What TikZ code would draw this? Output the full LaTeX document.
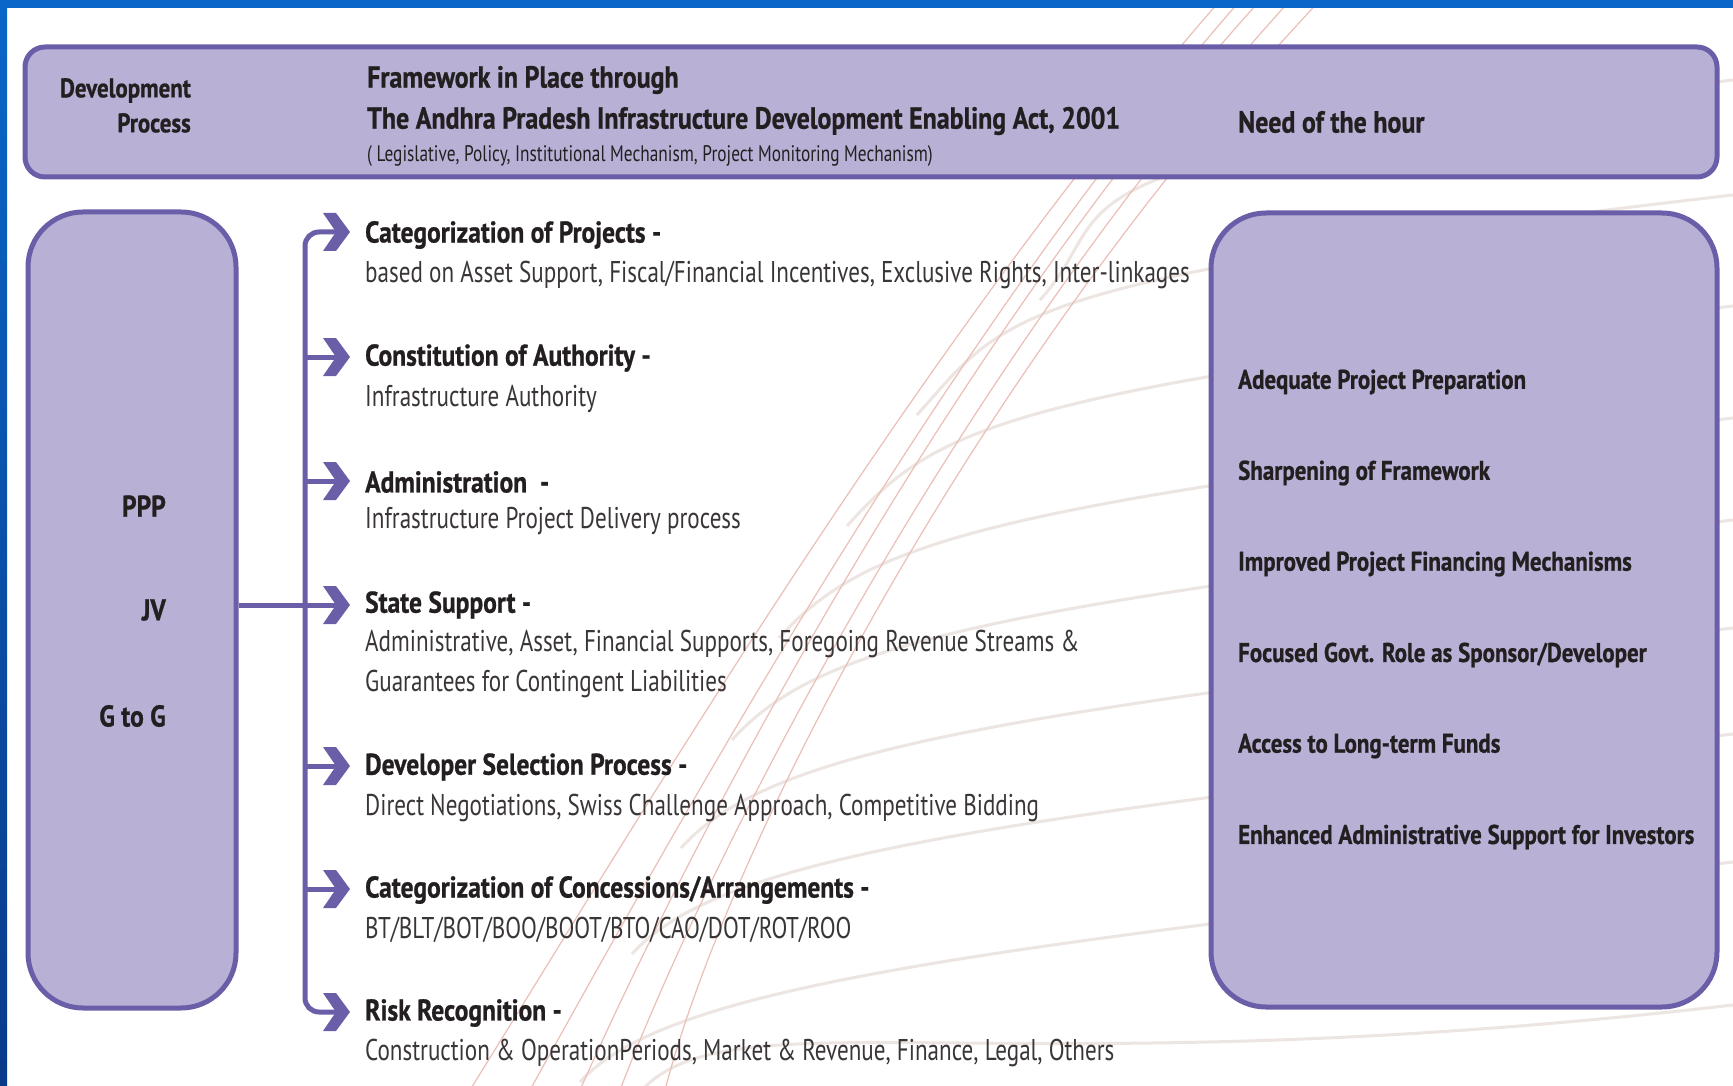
\documentclass[tikz,border=0pt]{standalone}
\usepackage{fontspec}
\setmainfont{PT Sans}[FakeStretch=0.77]
\newfontfamily\bcond{PT Sans}[FakeStretch=0.85, BoldFeatures={FakeBold=0.8}]
\usetikzlibrary{calc}
\definecolor{bluebar}{HTML}{0A66C8}
\definecolor{bluedark}{HTML}{0A3A8A}
\definecolor{boxfill}{HTML}{B9B0D6}
\definecolor{boxline}{HTML}{6A5EA8}
\definecolor{ink}{HTML}{231F20}
\definecolor{subink}{HTML}{3A3638}
\definecolor{swoosh}{HTML}{EBBFB6}
\definecolor{fanc}{HTML}{EDE5E2}
\tikzset{
  pbox/.style={draw=boxline, fill=boxfill, line width=5pt},
  conn/.style={draw=boxline, line width=5pt},
  chevron/.pic={\fill[boxline] (-27,-19) -- (-14,-19) -- (0,0) -- (-14,19) -- (-27,19) -- (-14,0) -- cycle;},
  head/.style={anchor=west, inner sep=0pt, font=\bcond\bfseries\fontsize{30}{34}\selectfont, text=ink},
  sub/.style={anchor=west, inner sep=0pt, font=\fontsize{30}{34}\selectfont, text=subink},
  need/.style={anchor=west, inner sep=0pt, font=\bcond\bfseries\fontsize{27}{31}\selectfont, text=ink},
  lab/.style={anchor=east, inner sep=0pt, font=\bcond\bfseries\fontsize{30}{34}\selectfont, text=ink},
  hdrbig/.style={anchor=west, inner sep=0pt, font=\bcond\bfseries\fontsize{30.5}{35}\selectfont, text=ink},
  hdrsmall/.style={anchor=west, inner sep=0pt, font=\fontsize{22.5}{26}\selectfont, text=ink},
  hdrdev/.style={anchor=north east, inner sep=0pt, align=right, font=\bcond\bfseries\fontsize{27}{35}\selectfont, text=ink},
  swl/.style={draw=swoosh, line width=1.2pt},
  fanl/.style={draw=fanc, line width=3pt},
}
\begin{document}
\begin{tikzpicture}[x=1pt,y=-1pt]
\useasboundingbox (0,0) rectangle (1733,1086);
\fill[white] (0,0) rectangle (1733,1086);
% background swooshes
\foreach \Y/\sx/\sy in {150/1040/300, 265/917/415, 376/847/526, 488/779/638, 590/732/740, 698/681/848, 804/632/954, 932/580/1082, 1075/640/1092}{
  \draw[fanl] (\sx,\sy) .. controls ($(\sx,\sy)+(90,-100)$) and (1000,\Y+15) .. (1733,\Y-70);
}
\draw[swl] (470,1090) .. controls (650,800) and (930,330) .. (1225,-5);
\draw[swl] (530,1090) .. controls (680,820) and (950,330) .. (1245,-5);
\draw[swl] (580,1090) .. controls (700,820) and (960,330) .. (1265,-5);
\draw[swl] (620,1090) .. controls (720,830) and (975,345) .. (1295,-5);
\draw[swl] (665,1090) .. controls (730,840) and (985,355) .. (1325,-5);
% blue frame
\fill[bluebar] (0,0) rectangle (1733,8);
\shade[top color=bluebar, bottom color=bluedark] (0,0) rectangle (7,1086);
% header
\node[pbox, rounded corners=20pt, minimum width=1692pt, minimum height=130pt] (hdr) at (871,112) {};
\node[hdrdev] (dev) at (191,78) {Development\\Process};
\node[hdrbig] (fw1) at (367,80) {Framework in Place through};
\node[hdrbig] (fw2) at (367,121) {The Andhra Pradesh Infrastructure Development Enabling Act, 2001};
\node[hdrsmall] (fw3) at (367,156) {( Legislative, Policy, Institutional Mechanism, Project Monitoring Mechanism)};
\node[hdrbig] (noh) at (1238,122) {Need of the hour};
% left box
\node[pbox, rounded corners=55pt, minimum width=208pt, minimum height=796pt] (lbox) at (132,610) {};
\node[lab] (ppp) at (166,506) {PPP};
\node[lab] (jv) at (166,610) {JV};
\node[lab] (g2g) at (166,716) {G to G};
% right box
\node[pbox, rounded corners=55pt, minimum width=506pt, minimum height=794pt] (rbox) at (1464,610) {};
\node[need] (n1) at (1238,382) {Adequate Project Preparation};
\node[need] (n2) at (1238,473) {Sharpening of Framework};
\node[need] (n3) at (1238,564) {Improved Project Financing Mechanisms};
\node[need] (n4) at (1238,655) {Focused Govt. Role as Sponsor/Developer};
\node[need] (n5) at (1238,746) {Access to Long-term Funds};
\node[need] (n6) at (1238,837) {Enhanced Administrative Support for Investors};
% items
\node[head] (h1) at (365,235) {Categorization of Projects -};
\node[sub] (s1) at (365,275) {based on Asset Support, Fiscal/Financial Incentives, Exclusive Rights, Inter-linkages};
\node[head] (h2) at (365,358) {Constitution of Authority -};
\node[sub] (s2) at (365,399) {Infrastructure Authority};
\node[head] (h3) at (365,482) {Administration\ \ -};
\node[sub] (s3) at (365,521) {Infrastructure Project Delivery process};
\node[head] (h4) at (365,605) {State Support -};
\node[sub] (s4) at (365,644) {Administrative, Asset, Financial Supports, Foregoing Revenue Streams \&};
\node[sub] (s4b) at (365,684) {Guarantees for Contingent Liabilities};
\node[head] (h5) at (365,767) {Developer Selection Process -};
\node[sub] (s5) at (365,808) {Direct Negotiations, Swiss Challenge Approach, Competitive Bidding};
\node[head] (h6) at (365,890) {Categorization of Concessions/Arrangements -};
\node[sub] (s6) at (365,930) {BT/BLT/BOT/BOO/BOOT/BTO/CAO/DOT/ROT/ROO};
\node[head] (h7) at (365,1013) {Risk Recognition -};
\node[sub] (s7) at (365,1053) {Construction \& OperationPeriods, Market \& Revenue, Finance, Legal, Others};
% connectors
\foreach \i/\y in {1/232,2/357,3/481,4/605,5/766,6/889,7/1012}{
  \coordinate (a\i) at (350,\y);
  \coordinate (b\i) at (336,\y);
}
\coordinate (ttop) at (305,232);
\coordinate (tbot) at (305,1012);
\draw[conn, rounded corners=14pt] (b1) -- (ttop) -- (tbot) -- (b7);
\foreach \i in {2,3,5,6}{ \draw[conn] (ttop |- a\i) -- (b\i); }
\draw[conn] (lbox.east |- a4) -- (b4);
\foreach \i in {1,...,7}{ \pic at (a\i) {chevron}; }
\end{tikzpicture}
\end{document}
